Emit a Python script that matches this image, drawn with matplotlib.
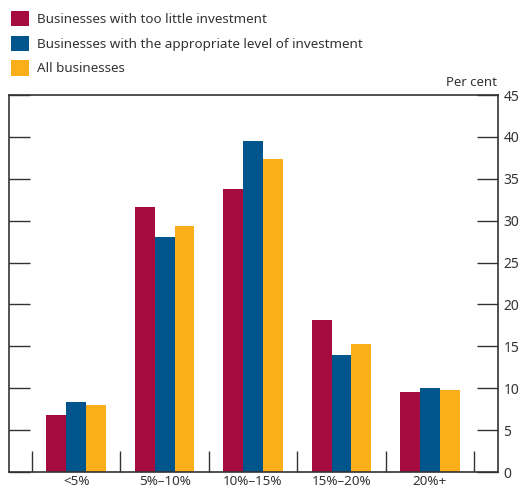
import matplotlib.pyplot as plt
from matplotlib.patches import Patch
import numpy as np

plt.rcParams['font.family'] = ['Noto Sans', 'DejaVu Sans']

categories = ['<5%', '5%–10%', '10%–15%', '15%–20%', '20%+']
too_little = [6.8, 31.6, 33.8, 18.1, 9.5]
appropriate = [8.35, 28.0, 39.5, 14.0, 10.0]
all_biz = [8.0, 29.4, 37.4, 15.3, 9.8]

series_names = ['Businesses with too little investment',
                'Businesses with the appropriate level of investment',
                'All businesses']
colors = ['#A50B3F', '#00558C', '#F9AE1A']

fig = plt.figure(figsize=(5.27, 4.91), dpi=100)
ax = fig.add_axes([9 / 527, 19 / 491, 489 / 527, 377 / 491])

x = np.arange(len(categories))
w = 0.225
for i, (vals, c) in enumerate(zip([too_little, appropriate, all_biz], colors)):
    ax.bar(x + (i - 1) * w, vals, width=w, color=c, linewidth=0)

ax.set_xlim(-0.76, 4.77)
ax.set_ylim(0, 45)

# y ticks: labels on the right, inward ticks both sides
ax.yaxis.tick_right()
ax.set_yticks(range(0, 50, 5))
ax.tick_params(axis='y', which='both', left=True, right=True, direction='in',
               length=15, width=1, color='#333333', labelsize=10,
               labelcolor='#333333', pad=4)

# x: category labels at centres, boundary ticks pointing up
ax.set_xticks(x)
ax.set_xticklabels(categories)
ax.set_xticks(np.arange(-0.5, 5.0, 1.0), minor=True)
ax.tick_params(axis='x', which='major', length=0, labelsize=9.7,
               labelcolor='#333333', pad=2)
ax.tick_params(axis='x', which='minor', direction='in', length=15,
               width=1, color='#333333')

for s in ax.spines.values():
    s.set_color('#333333')
    s.set_linewidth(1.2)

fig.text(497 / 527, 1 - 82 / 491, 'Per cent', ha='right', va='center',
         fontsize=9.5, color='#333333')

handles = [Patch(facecolor=c, edgecolor='none') for c in colors]
fig.legend(handles, series_names, loc='upper left',
           bbox_to_anchor=(0.0, 1.0), frameon=False, fontsize=9.7,
           handlelength=1.35, handleheight=1.35, handletextpad=0.6,
           labelspacing=0.72, borderpad=0.5, borderaxespad=0.3,
           labelcolor='#333333')

fig.savefig('out.png', dpi=100)
